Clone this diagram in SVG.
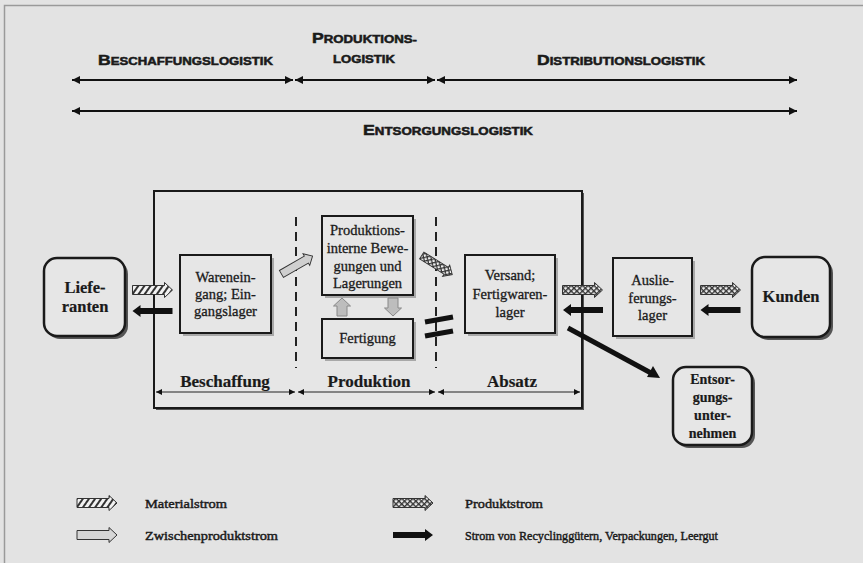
<svg xmlns="http://www.w3.org/2000/svg" width="863" height="563" viewBox="0 0 863 563">
<style>
.hd{font-family:"Liberation Sans",Arial,sans-serif;font-weight:bold;fill:#1a1a1a;stroke:#1a1a1a;stroke-width:0.5}
.big{font-size:14px}
.sm{font-size:10.5px}
.lbl{font-family:"Liberation Serif","Times New Roman",serif;font-size:14.5px;fill:#1a1a1a;stroke:#1a1a1a;stroke-width:0.3;text-anchor:middle}
.bl{font-family:"Liberation Serif","Times New Roman",serif;font-weight:bold;fill:#1a1a1a;stroke:#1a1a1a;stroke-width:0.2;text-anchor:middle}
.lg{font-family:"Liberation Serif","Times New Roman",serif;font-size:13px;fill:#1a1a1a;stroke:#1a1a1a;stroke-width:0.45}
.box{fill:#e6e6e6;stroke:#1a1a1a;stroke-width:2}
.rbox{fill:#e6e6e6;stroke:#1a1a1a;stroke-width:2.5}
.shl{fill:#a8a8a8}
.shd{fill:#555}
.hl{stroke:#111;stroke-width:2;fill:none}
.dim{stroke:#222;stroke-width:1.2;fill:none}
.dash{stroke:#222;stroke-width:2;stroke-dasharray:9 6;fill:none}
.blk{fill:#111}
</style>
<defs>
<marker id="ah" viewBox="0 0 8 8" refX="8" refY="4" markerWidth="8" markerHeight="8" markerUnits="userSpaceOnUse" orient="auto-start-reverse"><path d="M0,0 L8,4 L0,8 z" fill="#111"/></marker>
<marker id="as" viewBox="0 0 8 8" refX="8" refY="4" markerWidth="6" markerHeight="6" markerUnits="userSpaceOnUse" orient="auto-start-reverse"><path d="M0,0 L8,4 L0,8 z" fill="#111"/></marker>
<pattern id="hatch" width="5" height="5" patternUnits="userSpaceOnUse" patternTransform="rotate(35)"><rect width="5" height="5" fill="#f2f2f2"/><rect width="2" height="5" fill="#333"/></pattern>
<pattern id="check" width="4" height="4" patternUnits="userSpaceOnUse" patternTransform="rotate(45)"><rect width="4" height="4" fill="#f0f0f0"/><rect width="1.4" height="4" fill="#333"/><rect width="4" height="1.4" fill="#333"/></pattern>
<path id="fa" d="M-20,-4.5 H12 V-7.5 L20,0 L12,7.5 V4.5 H-20 Z" stroke="#333" stroke-width="1"/>
<path id="ba" d="M-20,-3 H12 V-6 L20,0 L12,6 V3 H-20 Z" fill="#111"/>
<path id="va" d="M-5,9 V-1 H-8.5 L0,-9 L8.5,-1 H5 V9 Z" fill="#bdbdbd" stroke="#888" stroke-width="1"/>
</defs>
<rect width="863" height="563" fill="#e3e3e3"/>
<path d="M4.5,563 V5.5 H863" fill="none" stroke="#9a9a9a" stroke-width="1.5"/>

<g id="header">
<text class="hd" x="98" y="65" textLength="175" lengthAdjust="spacingAndGlyphs"><tspan class="big">B</tspan><tspan class="sm">ESCHAFFUNGSLOGISTIK</tspan></text>
<text class="hd" x="312" y="43" textLength="105" lengthAdjust="spacingAndGlyphs"><tspan class="big">P</tspan><tspan class="sm">RODUKTIONS-</tspan></text>
<text class="hd sm" x="333" y="63" textLength="62" lengthAdjust="spacingAndGlyphs">LOGISTIK</text>
<text class="hd" x="537" y="65" textLength="168" lengthAdjust="spacingAndGlyphs"><tspan class="big">D</tspan><tspan class="sm">ISTRIBUTIONSLOGISTIK</tspan></text>
<text class="hd" x="363" y="135" textLength="170" lengthAdjust="spacingAndGlyphs"><tspan class="big">E</tspan><tspan class="sm">NTSORGUNGSLOGISTIK</tspan></text>
</g>

<g id="main">
<rect x="156" y="193" width="428" height="217" class="shd"/>
<rect x="154" y="191" width="428" height="217" class="box" stroke-width="2.5"/>
<text class="bl" x="225" y="387" font-size="17">Beschaffung</text>
<text class="bl" x="369" y="387" font-size="17">Produktion</text>
<text class="bl" x="512" y="387" font-size="17">Absatz</text>
</g>

<g id="lieferanten">
<rect x="47" y="261" width="81" height="78" rx="13" class="shd"/>
<rect x="44" y="258" width="81" height="78" rx="13" class="rbox"/>
<text class="bl" font-size="16.5" x="85" y="293">Liefe-</text>
<text class="bl" font-size="16.5" x="85" y="312">ranten</text>
</g>

<g id="wareneingang">
<rect x="183" y="258" width="91" height="78" class="shl"/>
<rect x="180" y="255" width="91" height="78" class="box"/>
<text class="lbl" x="225.5" y="282">Warenein-</text>
<text class="lbl" x="225.5" y="299">gang; Ein-</text>
<text class="lbl" x="225.5" y="316">gangslager</text>
</g>

<g id="produktionsintern">
<rect x="325" y="219" width="91" height="79" class="shl"/>
<rect x="322" y="216" width="91" height="79" class="box"/>
<text class="lbl" x="367.5" y="235">Produktions-</text>
<text class="lbl" x="367.5" y="253">interne Bewe-</text>
<text class="lbl" x="367.5" y="271">gungen und</text>
<text class="lbl" x="367.5" y="288">Lagerungen</text>
</g>

<g id="fertigung">
<rect x="325" y="322" width="91" height="39" class="shl"/>
<rect x="322" y="319" width="91" height="39" class="box"/>
<text class="lbl" x="367.5" y="343">Fertigung</text>
</g>

<g id="versand">
<rect x="468" y="258" width="90" height="78" class="shl"/>
<rect x="465" y="255" width="90" height="78" class="box"/>
<text class="lbl" x="510" y="280">Versand;</text>
<text class="lbl" x="510" y="299">Fertigwaren-</text>
<text class="lbl" x="510" y="317">lager</text>
</g>

<g id="auslieferungslager">
<rect x="616" y="261" width="79" height="78" class="shl"/>
<rect x="613" y="258" width="79" height="78" class="box"/>
<text class="lbl" x="652.5" y="285">Auslie-</text>
<text class="lbl" x="652.5" y="303">ferungs-</text>
<text class="lbl" x="652.5" y="320">lager</text>
</g>

<g id="kunden">
<rect x="755" y="260" width="78" height="80" rx="13" class="shd"/>
<rect x="752" y="257" width="78" height="80" rx="13" class="rbox"/>
<text class="bl" font-size="16.5" x="791" y="302">Kunden</text>
</g>

<g id="entsorgungsunternehmen">
<rect x="676" y="370" width="79" height="78" rx="13" class="shd"/>
<rect x="673" y="367" width="79" height="78" rx="13" class="rbox"/>
<text class="bl" font-size="14" x="712.5" y="384">Entsor-</text>
<text class="bl" font-size="14" x="712.5" y="402">gungs-</text>
<text class="bl" font-size="14" x="712.5" y="420">unter-</text>
<text class="bl" font-size="14" x="712.5" y="438">nehmen</text>
</g>

<g id="connectors">
<line class="hl" x1="72" y1="80" x2="293" y2="80" marker-start="url(#ah)" marker-end="url(#ah)"/>
<line class="hl" x1="295" y1="80" x2="435" y2="80" marker-start="url(#ah)" marker-end="url(#ah)"/>
<line class="hl" x1="437" y1="80" x2="797" y2="80" marker-start="url(#ah)" marker-end="url(#ah)"/>
<line class="hl" x1="72" y1="111" x2="797" y2="111" marker-start="url(#ah)" marker-end="url(#ah)"/>
<line class="dim" x1="156" y1="392" x2="295" y2="392" marker-start="url(#as)" marker-end="url(#as)"/>
<line class="dim" x1="298" y1="392" x2="435" y2="392" marker-start="url(#as)" marker-end="url(#as)"/>
<line class="dim" x1="438" y1="392" x2="580" y2="392" marker-start="url(#as)" marker-end="url(#as)"/>
<line class="dash" x1="296" y1="217" x2="296" y2="368"/>
<line class="dash" x1="436" y1="217" x2="436" y2="368"/>
<use href="#fa" fill="url(#hatch)" transform="translate(152.5,290)"/>
<use href="#ba" transform="translate(152.5,311) rotate(180)"/>
<use href="#fa" fill="#cfcfcf" stroke="#888" transform="translate(297,265) rotate(-30) scale(0.9)"/>
<use href="#va" transform="translate(342,307)"/>
<use href="#va" transform="translate(393,307) rotate(180)"/>
<use href="#fa" fill="url(#check)" transform="translate(437,265) rotate(32) scale(0.9)"/>
<line x1="425" y1="322" x2="453" y2="317" stroke="#111" stroke-width="5"/>
<line x1="425" y1="336" x2="453" y2="331" stroke="#111" stroke-width="5"/>
<use href="#fa" fill="url(#check)" transform="translate(582.5,290)"/>
<use href="#ba" transform="translate(583,310) rotate(180)"/>
<line x1="568" y1="328" x2="651" y2="373" stroke="#111" stroke-width="5"/>
<path d="M660,378 L647,377 L653,366 Z" class="blk"/>
<use href="#fa" fill="url(#check)" transform="translate(720.5,290)"/>
<use href="#ba" transform="translate(720.5,310) rotate(180)"/>
</g>

<g id="legend">
<use href="#fa" fill="url(#hatch)" transform="translate(97,503)"/>
<text class="lg" x="145" y="508" textLength="82" lengthAdjust="spacingAndGlyphs">Materialstrom</text>
<use href="#fa" fill="#d6d6d6" stroke="#888" transform="translate(97,535)"/>
<text class="lg" x="145" y="540" textLength="133" lengthAdjust="spacingAndGlyphs">Zwischenproduktstrom</text>
<use href="#fa" fill="url(#check)" transform="translate(413,503)"/>
<text class="lg" x="465" y="508" textLength="78" lengthAdjust="spacingAndGlyphs">Produktstrom</text>
<use href="#ba" transform="translate(413,535)"/>
<text class="lg" x="465" y="540" textLength="253" lengthAdjust="spacingAndGlyphs">Strom von Recyclinggütern, Verpackungen, Leergut</text>
</g>
</svg>
